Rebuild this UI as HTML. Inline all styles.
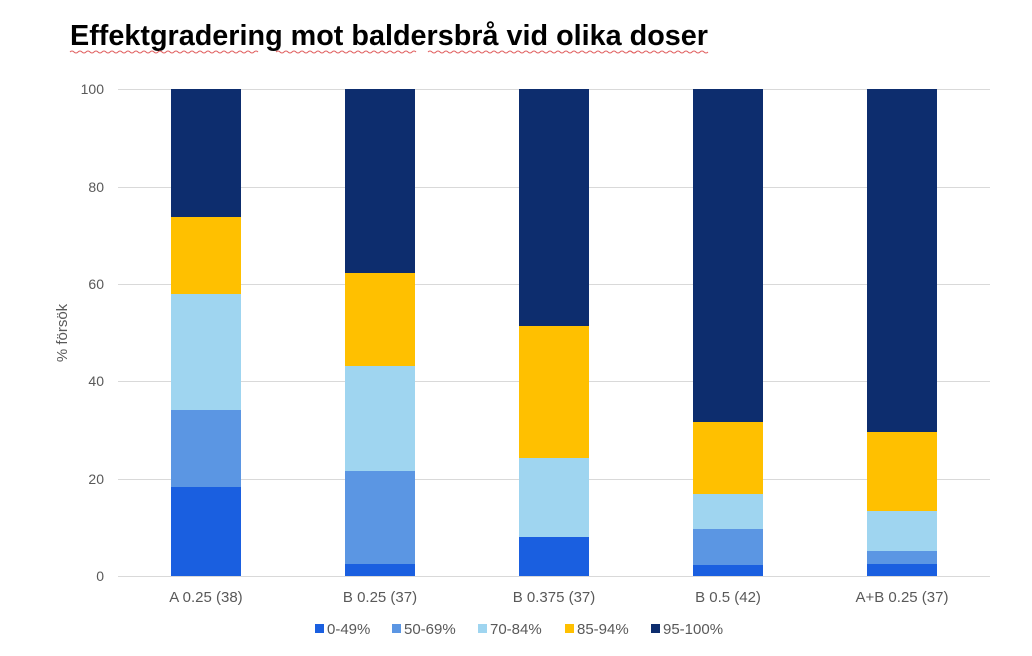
<!DOCTYPE html>
<html><head><meta charset="utf-8"><style>
html,body{margin:0;padding:0;background:#fff;}
svg{display:block;font-family:"Liberation Sans",Arial,sans-serif;}
</style></head><body>
<svg width="1032" height="656" viewBox="0 0 1032 656" xmlns="http://www.w3.org/2000/svg">
<rect width="1032" height="656" fill="#fff"/>
<text x="70" y="45" font-size="29" font-weight="bold" fill="#000" textLength="638" lengthAdjust="spacingAndGlyphs">Effektgradering mot baldersbrå vid olika doser</text>
<g stroke="#e06060" stroke-width="1" fill="none">
<path d="M70 52 q2 -2 4 0 t4 0 t4 0 t4 0 t4 0 t4 0 t4 0 t4 0 t4 0 t4 0 t4 0 t4 0 t4 0 t4 0 t4 0 t4 0 t4 0 t4 0 t4 0 t4 0 t4 0 t4 0 t4 0 t4 0 t4 0 t4 0 t4 0 t4 0 t4 0 t4 0 t4 0 t4 0 t4 0 t4 0 t4 0 t4 0 t4 0 t4 0 t4 0 t4 0 t4 0 t4 0 t4 0 t4 0 t4 0 t4 0 t4 0"/>
<path d="M276 52 q2 -2 4 0 t4 0 t4 0 t4 0 t4 0 t4 0 t4 0 t4 0 t4 0 t4 0 t4 0 t4 0 t4 0 t4 0 t4 0 t4 0 t4 0 t4 0 t4 0 t4 0 t4 0 t4 0 t4 0 t4 0 t4 0 t4 0 t4 0 t4 0 t4 0 t4 0 t4 0 t4 0 t4 0 t4 0 t4 0"/>
<path d="M428 52 q2 -2 4 0 t4 0 t4 0 t4 0 t4 0 t4 0 t4 0 t4 0 t4 0 t4 0 t4 0 t4 0 t4 0 t4 0 t4 0 t4 0 t4 0 t4 0 t4 0 t4 0 t4 0 t4 0 t4 0 t4 0 t4 0 t4 0 t4 0 t4 0 t4 0 t4 0 t4 0 t4 0 t4 0 t4 0 t4 0 t4 0 t4 0 t4 0 t4 0 t4 0 t4 0 t4 0 t4 0 t4 0 t4 0 t4 0 t4 0 t4 0 t4 0 t4 0 t4 0 t4 0"/>
<path d="M628 52 q2 -2 4 0 t4 0 t4 0 t4 0 t4 0 t4 0 t4 0 t4 0 t4 0 t4 0 t4 0 t4 0 t4 0 t4 0 t4 0 t4 0 t4 0 t4 0 t4 0 t4 0"/>
</g>
<g stroke="#d9d9d9" stroke-width="1">
<line x1="118" y1="89.5" x2="990" y2="89.5"/>
<line x1="118" y1="187.5" x2="990" y2="187.5"/>
<line x1="118" y1="284.5" x2="990" y2="284.5"/>
<line x1="118" y1="381.5" x2="990" y2="381.5"/>
<line x1="118" y1="479.5" x2="990" y2="479.5"/>
<line x1="118" y1="576.5" x2="990" y2="576.5"/>
</g>
<g font-size="14" fill="#595959" text-anchor="end">
<text x="104" y="94">100</text><text x="104" y="192">80</text><text x="104" y="289">60</text>
<text x="104" y="386">40</text><text x="104" y="484">20</text><text x="104" y="581">0</text>
</g>
<text transform="translate(67,333) rotate(-90)" font-size="15" fill="#595959" text-anchor="middle">% försök</text>
<!-- bars -->
<g>
<rect x="171" y="89" width="70" height="128" fill="#0d2d6e"/>
<rect x="171" y="217" width="70" height="77" fill="#ffc000"/>
<rect x="171" y="294" width="70" height="116" fill="#9fd5f0"/>
<rect x="171" y="410" width="70" height="77" fill="#5b96e3"/>
<rect x="171" y="487" width="70" height="89" fill="#1a5fe0"/>

<rect x="345" y="89" width="70" height="184" fill="#0d2d6e"/>
<rect x="345" y="273" width="70" height="93" fill="#ffc000"/>
<rect x="345" y="366" width="70" height="105" fill="#9fd5f0"/>
<rect x="345" y="471" width="70" height="93" fill="#5b96e3"/>
<rect x="345" y="564" width="70" height="12" fill="#1a5fe0"/>

<rect x="519" y="89" width="70" height="237" fill="#0d2d6e"/>
<rect x="519" y="326" width="70" height="132" fill="#ffc000"/>
<rect x="519" y="458" width="70" height="79" fill="#9fd5f0"/>
<rect x="519" y="537" width="70" height="39" fill="#1a5fe0"/>

<rect x="693" y="89" width="70" height="333" fill="#0d2d6e"/>
<rect x="693" y="422" width="70" height="72" fill="#ffc000"/>
<rect x="693" y="494" width="70" height="35" fill="#9fd5f0"/>
<rect x="693" y="529" width="70" height="36" fill="#5b96e3"/>
<rect x="693" y="565" width="70" height="11" fill="#1a5fe0"/>

<rect x="867" y="89" width="70" height="343" fill="#0d2d6e"/>
<rect x="867" y="432" width="70" height="79" fill="#ffc000"/>
<rect x="867" y="511" width="70" height="40" fill="#9fd5f0"/>
<rect x="867" y="551" width="70" height="13" fill="#5b96e3"/>
<rect x="867" y="564" width="70" height="12" fill="#1a5fe0"/>
</g>
<g font-size="15" fill="#595959" text-anchor="middle">
<text x="206" y="602">A 0.25 (38)</text>
<text x="380" y="602">B 0.25 (37)</text>
<text x="554" y="602">B 0.375 (37)</text>
<text x="728" y="602">B 0.5 (42)</text>
<text x="902" y="602">A+B 0.25 (37)</text>
</g>
<g font-size="15" fill="#595959">
<rect x="315" y="624" width="9" height="9" fill="#1a5fe0"/><text x="327" y="634">0-49%</text>
<rect x="392" y="624" width="9" height="9" fill="#5b96e3"/><text x="404" y="634">50-69%</text>
<rect x="478" y="624" width="9" height="9" fill="#9fd5f0"/><text x="490" y="634">70-84%</text>
<rect x="565" y="624" width="9" height="9" fill="#ffc000"/><text x="577" y="634">85-94%</text>
<rect x="651" y="624" width="9" height="9" fill="#0d2d6e"/><text x="663" y="634">95-100%</text>
</g>
</svg>
</body></html>
